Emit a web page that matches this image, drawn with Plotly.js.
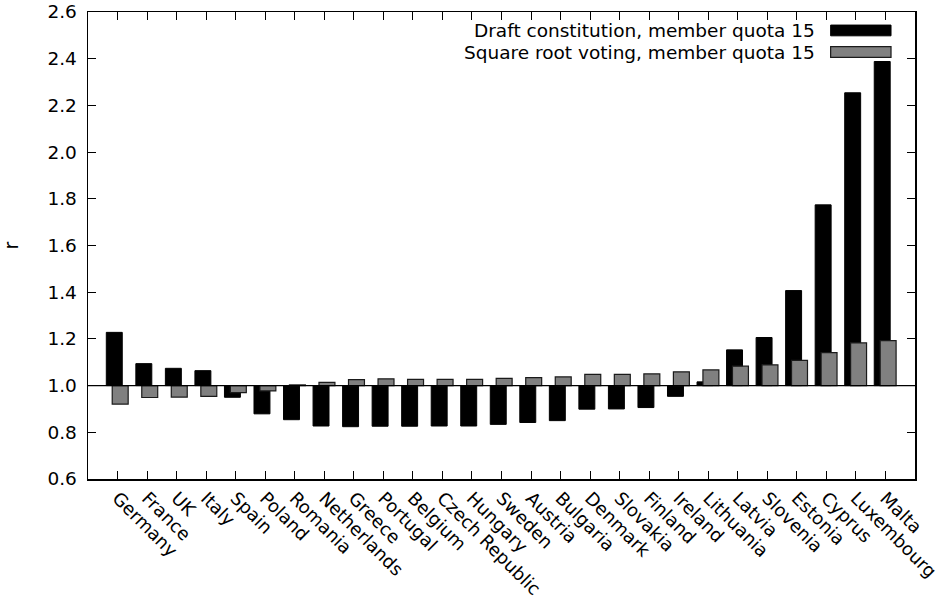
<!DOCTYPE html>
<html>
<head>
<meta charset="utf-8">
<script src="https://cdn.plot.ly/plotly-3.0.1.min.js"></script>
<style>html,body{margin:0;padding:0;background:#fff;}#chart{width:943px;height:607px;}</style>
</head>
<body>
<div id="chart"></div>
<script>
const countries = ["Germany","France","UK","Italy","Spain","Poland","Romania","Netherlands","Greece","Portugal","Belgium","Czech Republic","Hungary","Sweden","Austria","Bulgaria","Denmark","Slovakia","Finland","Ireland","Lithuania","Latvia","Slovenia","Estonia","Cyprus","Luxembourg","Malta"];
const draftName = "Draft constitution, member quota 15";
const sqrtName = "Square root voting, member quota 15";
const draftValues = [1.228,1.094,1.074,1.064,0.950,0.879,0.854,0.827,0.824,0.826,0.826,0.827,0.827,0.834,0.842,0.850,0.899,0.900,0.906,0.954,1.016,1.153,1.206,1.407,1.774,2.254,2.388];
const sqrtValues = [0.921,0.949,0.951,0.954,0.970,0.977,1.003,1.014,1.026,1.029,1.027,1.027,1.027,1.031,1.034,1.037,1.048,1.048,1.050,1.059,1.067,1.083,1.089,1.108,1.141,1.183,1.193];
const baseline = 1.0;
const yTicks = [0.6,0.8,1.0,1.2,1.4,1.6,1.8,2.0,2.2,2.4,2.6];

const FONT = "DejaVu Sans, Arial, sans-serif";

const traces = [
  {
    type: 'bar', name: draftName, x: countries,
    y: draftValues.map(v => v - baseline), base: baseline,
    offset: -0.38, width: 0.54,
    marker: {color: '#000000', line: {color: '#000000', width: 1}},
    hoverinfo: 'skip', showlegend: false
  },
  {
    type: 'bar', name: sqrtName, x: countries,
    y: sqrtValues.map(v => v - baseline), base: baseline,
    offset: -0.18, width: 0.54,
    marker: {color: '#808080', line: {color: '#1a1a1a', width: 1.2}},
    hoverinfo: 'skip', showlegend: false
  }
];

const layout = {
  width: 943, height: 607,
  margin: {l: 88, r: 28, t: 12, b: 128},
  paper_bgcolor: '#ffffff', plot_bgcolor: '#ffffff',
  barmode: 'overlay',
  showlegend: false,
  font: {family: FONT, size: 18, color: '#000'},
  xaxis: {
    type: 'category', range: [-1, 27],
    tickangle: 45, ticks: 'inside', ticklen: 8, tickcolor: '#000', tickwidth: 1,
    showline: true, linecolor: '#000', linewidth: 1.5, mirror: 'allticks',
    showgrid: false, zeroline: false,
    tickfont: {family: FONT, size: 18, color: '#000'}
  },
  yaxis: {
    range: [0.6, 2.6], tickvals: yTicks, tickformat: '.1f',
    ticks: 'inside', ticklen: 8, tickcolor: '#000', tickwidth: 1,
    showline: true, linecolor: '#000', linewidth: 1.5, mirror: 'allticks',
    showgrid: false, zeroline: false,
    tickfont: {family: FONT, size: 18.5, color: '#000'},
    ticklabelstandoff: 6,
    title: {text: 'r', font: {family: FONT, size: 19, color: '#000'}, standoff: 28}
  },
  shapes: [
    {type: 'line', xref: 'paper', yref: 'y', x0: 0, x1: 1, y0: baseline, y1: baseline,
     line: {color: '#000', width: 1.2}, layer: 'above'},
    {type: 'rect', xref: 'paper', yref: 'paper', x0: 0.898, x1: 0.971, y0: 0.949, y1: 0.972,
     fillcolor: '#000', line: {color: '#000', width: 1}},
    {type: 'rect', xref: 'paper', yref: 'paper', x0: 0.898, x1: 0.971, y0: 0.903, y1: 0.926,
     fillcolor: '#808080', line: {color: '#1a1a1a', width: 1.2}}
  ],
  annotations: [
    {xref: 'paper', yref: 'paper', x: 0.882, y: 0.960, xanchor: 'right', yanchor: 'middle',
     text: draftName, showarrow: false, font: {family: FONT, size: 18.5, color: '#000'}},
    {xref: 'paper', yref: 'paper', x: 0.882, y: 0.914, xanchor: 'right', yanchor: 'middle',
     text: sqrtName, showarrow: false, font: {family: FONT, size: 18.5, color: '#000'}}
  ]
};

Plotly.newPlot('chart', traces, layout, {displayModeBar: false, staticPlot: true});
</script>
</body>
</html>
